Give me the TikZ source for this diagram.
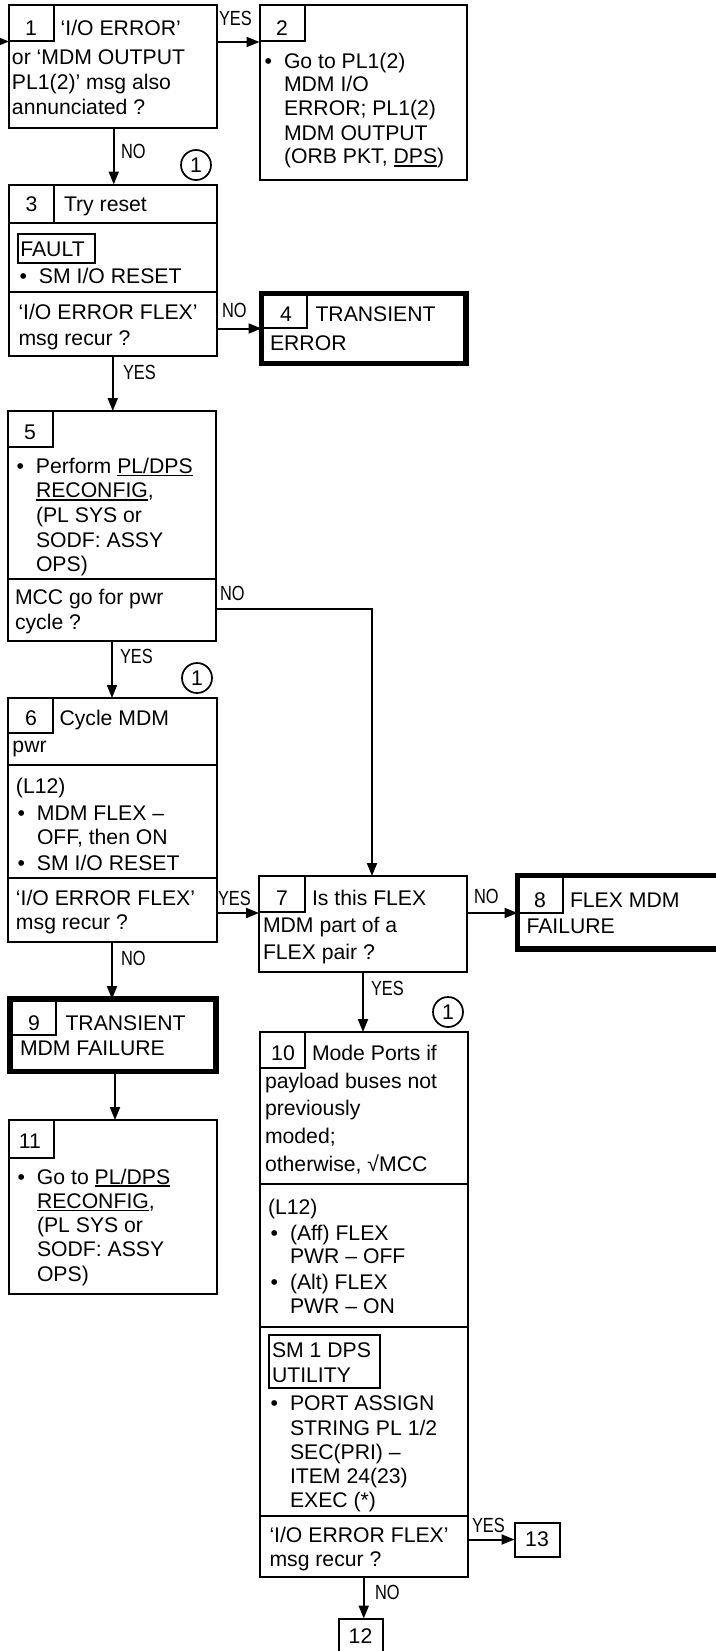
\documentclass[tikz,border=0pt]{standalone}
\usepackage{fontspec}
\setmainfont{Liberation Sans}
\newfontfamily\labfont[FakeStretch=0.8]{Liberation Sans}
\usetikzlibrary{arrows.meta}
\newcommand\fsk[1]{\fontsize{21.2pt}{#1pt}\selectfont}
\newcommand\bulx{\llap{\textbullet\hspace{12pt}}}
\newcommand\ulx[1]{\setbox0\hbox{#1}\rlap{\rule[-2.6pt]{\wd0}{1.4pt}}\box0}
\begin{document}
\begin{tikzpicture}[x=1pt,y=-1pt,
 box/.style={draw, line width=2pt, inner sep=0pt, outer sep=0pt, anchor=north west},
 tbox/.style={box, line width=5.5pt},
 txt/.style={inner sep=0pt, outer sep=0pt, anchor=base west, align=left, font=\fsk{24.5}},
 num/.style={inner sep=0pt, outer sep=0pt, anchor=base, font=\fsk{24.5}},
 lab/.style={inner sep=0pt, outer sep=0pt, anchor=base west, font=\labfont\fontsize{20.5pt}{22pt}\selectfont},
 arr/.style={line width=2pt, -{Triangle[length=13pt,width=10pt]}},
 circ/.style={circle, draw, line width=1.7pt, minimum size=30pt, inner sep=0pt, font=\fsk{24.5}},
 sepln/.style={line width=2pt},
 tabln/.style={line width=2pt},
 inbox/.style={draw, line width=1.7pt, inner sep=0pt, outer sep=0pt, anchor=north west}]
\useasboundingbox (0,0) rectangle (715,1651);

% ---------- boxes ----------
\node[box, minimum width=207.5pt, minimum height=123pt] (b1) at (9,5) {};
\node[box, minimum width=207.5pt, minimum height=175pt] (b2) at (259.5,5) {};
\node[box, minimum width=207.5pt, minimum height=171.5pt] (b3) at (9,184.5) {};
\node[tbox, minimum width=204.5pt, minimum height=70pt] (b4) at (261.5,293.5) {};
\node[box, minimum width=208pt, minimum height=230pt] (b5) at (8,411) {};
\node[box, minimum width=209pt, minimum height=244pt] (b6) at (7.5,698) {};
\node[box, minimum width=208pt, minimum height=96pt] (b7) at (259,876) {};
\node[tbox, minimum width=215pt, minimum height=73.5pt] (b8) at (517.5,875.5) {};
\node[tbox, minimum width=206pt, minimum height=72.5pt] (b9) at (10,999) {};
\node[box, minimum width=208.5pt, minimum height=545pt] (b10) at (259.5,1032) {};
\node[box, minimum width=208pt, minimum height=174pt] (b11) at (8.5,1120) {};
\node[inner sep=0pt, outer sep=0pt, anchor=north west, minimum width=44pt, minimum height=35pt, font=\fsk{24.5}] (b12) at (338.5,1618.5) {12};
\draw[line width=2pt] ([yshift=-30pt]b12.south west) |- (b12.north east) -- ([yshift=-30pt]b12.south east);
\node[box, minimum width=45pt, minimum height=34pt, font=\fsk{24.5}] (b13) at (514.5,1522.5) {13};

% ---------- tabs ----------
\draw[tabln] (53.5,5) |- (9,41.5);
\draw[tabln] (305,5) |- (259.5,41.5);
\draw[tabln] (54,184.5) -- (54,222.5);
\draw[tabln] (307,293.5) |- (261.5,328);
\draw[tabln] (53,411) |- (8,447);
\draw[tabln] (53,698) |- (7.5,733);
\draw[tabln] (305,876) |- (259,912);
\draw[tabln] (563,875.5) |- (517.5,913);
\draw[tabln] (56,999) |- (10,1035);
\draw[tabln] (305,1032) |- (259.5,1068);
\draw[tabln] (54,1120) |- (8.5,1158);

% ---------- separators ----------
\draw[sepln] (b3.west |- 0,222.5) -- (b3.east |- 0,222.5);
\draw[sepln] (b3.west |- 0,292) -- (b3.east |- 0,292);
\draw[sepln] (b5.west |- 0,579) -- (b5.east |- 0,579);
\draw[sepln] (b6.west |- 0,765) -- (b6.east |- 0,765);
\draw[sepln] (b6.west |- 0,878) -- (b6.east |- 0,878);
\draw[sepln] (b10.west |- 0,1184) -- (b10.east |- 0,1184);
\draw[sepln] (b10.west |- 0,1327) -- (b10.east |- 0,1327);
\draw[sepln] (b10.west |- 0,1516) -- (b10.east |- 0,1516);

% ---------- inner boxes ----------
\node[inbox, minimum width=77pt, minimum height=29pt] (fault) at (18,234) {};
\node[inbox, minimum width=111pt, minimum height=53pt] (smb) at (269,1335) {};

% ---------- circles ----------
\node[circ] (c1) at (196,165) {1};
\node[circ] (c2) at (197,678) {1};
\node[circ] (c3) at (448,1012) {1};

% ---------- texts (multi-line nodes anchored at their last baseline) ----------
% box 1
\node[num] (n1) at (31,36) {1};
\node[txt] (t1a) at (60.7,36) {‘I/O ERROR’};
\node[txt, font=\fsk{25}] (t1b) at (12,115) {or ‘MDM OUTPUT\\PL1(2)’ msg also\\annunciated ?};
% box 2
\node[num] (n2) at (282,36) {2};
\node[txt, font=\fsk{24}] (t2) at (284,164) {\bulx Go to PL1(2)\\MDM I/O\\ERROR; PL1(2)\\MDM OUTPUT\\(ORB PKT, \ulx{DPS})};
% box 3
\node[num] (n3) at (31.5,211.7) {3};
\node[txt] (t3a) at (64,211.7) {Try reset};
\node[txt] (tfault) at (20.3,256) {FAULT};
\node[txt] (t3b) at (39,283.3) {\bulx SM I/O RESET};
\node[txt, font=\fsk{26}] (t3c) at (18.5,345) {‘I/O ERROR FLEX’\\msg recur ?};
% box 4
\node[num] (n4) at (286,321.7) {4};
\node[txt] (t4a) at (315.5,321.7) {TRANSIENT};
\node[txt] (t4b) at (270,350) {ERROR};
% box 5
\node[num] (n5) at (30,439) {5};
\node[txt, font=\fsk{24.6}] (t5a) at (36,571.7) {\bulx Perform \ulx{PL/DPS}\\\ulx{RECONFIG},\\(PL SYS or\\SODF: ASSY\\OPS)};
\node[txt, font=\fsk{25}] (t5b) at (15,629) {MCC go for pwr\\cycle ?};
% box 6
\node[num] (n6) at (31,725) {6};
\node[txt] (t6a) at (59.5,725) {Cycle MDM};
\node[txt] (t6b) at (12.5,752) {pwr};
\node[txt] (t6c) at (16,793) {(L12)};
\node[txt, font=\fsk{23.5}] (t6d) at (37,870.9) {\bulx MDM FLEX –\\OFF, then ON\\[3.2pt]\bulx SM I/O RESET};
\node[txt, font=\fsk{24}] (t6e) at (16,929) {‘I/O ERROR FLEX’\\msg recur ?};
% box 7
\node[num] (n7) at (282,905) {7};
\node[txt] (t7a) at (312,905) {Is this FLEX};
\node[txt, font=\fsk{26.5}] (t7b) at (263,959.2) {MDM part of a\\FLEX pair ?};
% box 8
\node[num] (n8) at (540,907) {8};
\node[txt] (t8a) at (570,907) {FLEX MDM};
\node[txt] (t8b) at (526.5,933) {FAILURE};
% box 9
\node[num] (n9) at (34,1030) {9};
\node[txt] (t9a) at (65.5,1030) {TRANSIENT};
\node[txt] (t9b) at (20,1055) {MDM FAILURE};
% box 11
\node[num] (n11) at (30,1148) {11};
\node[txt, font=\fsk{24.3}] (t11) at (37,1281.2) {\bulx Go to \ulx{PL/DPS}\\\ulx{RECONFIG},\\(PL SYS or\\SODF: ASSY\\OPS)};
% box 10
\node[num] (n10) at (283,1060) {10};
\node[txt] (t10a) at (312,1060) {Mode Ports if};
\node[txt, font=\fsk{27.9}] (t10b) at (265,1171.7) {payload buses not\\previously\\moded;\\otherwise, √MCC};
\node[txt] (t10c) at (268,1214) {(L12)};
\node[txt, font=\fsk{23.5}] (t10d) at (290,1313.5) {\bulx (Aff) FLEX\\PWR – OFF\\[2.5pt]\bulx (Alt) FLEX\\[0.5pt]PWR – ON};
\node[txt, font=\fsk{25}] (t10e) at (272,1382) {SM 1 DPS\\UTILITY};
\node[txt, font=\fsk{24.3}] (t10f) at (290,1507.9) {\bulx PORT ASSIGN\\STRING PL 1/2\\SEC(PRI) –\\ITEM 24(23)\\EXEC (*)};
\node[txt, font=\fsk{24}] (t10g) at (269.5,1566.7) {‘I/O ERROR FLEX’\\msg recur ?};

% ---------- connectors ----------
\coordinate (in) at (-12,41.5);
\draw[arr] (in) -- (in -| b1.west);
\coordinate (y12) at ([yshift=-37pt]b1.north east);
\draw[arr] (y12) -- (y12 -| b2.west);
\coordinate (x13) at ([xshift=1pt]b1.south);
\draw[arr] (x13) -- (x13 |- b3.north);
\draw[arr] (b3.east |- b4.west) -- (b4.west);
\draw[arr] (b3.south) -- (b3.south |- b5.north);
\coordinate (y57) at ([yshift=-198pt]b5.north east);
\draw[arr] (y57) -| ([xshift=9pt]b7.north);
\draw[arr] (b5.south) -- (b5.south |- b6.north);
\coordinate (y67) at ([yshift=-215pt]b6.north east);
\draw[arr] (y67) -- (y67 -| b7.west);
\draw[arr] (b6.south) -- (b6.south |- b9.north);
\coordinate (y78) at ([yshift=-37pt]b7.north east);
\draw[arr] (y78) -- (y78 -| b8.west);
\draw[arr] (b7.south) -- (b7.south |- b10.north);
\coordinate (x911) at ([xshift=2pt]b9.south);
\draw[arr] (x911) -- (x911 |- b11.north);
\draw[arr] (b10.east |- b13.west) -- (b13.west);
\draw[arr] (b10.south) -- (b10.south |- b12.north);

% ---------- labels ----------
\node[lab] (l1) at (219,26) {YES};
\node[lab] (l2) at (121,158) {NO};
\node[lab] (l3) at (222,317) {NO};
\node[lab] (l4) at (123,379) {YES};
\node[lab] (l5) at (220,600) {NO};
\node[lab] (l6) at (120,663) {YES};
\node[lab] (l7) at (218,905) {YES};
\node[lab] (l8) at (474,903) {NO};
\node[lab] (l9) at (121,965) {NO};
\node[lab] (l10) at (371,995) {YES};
\node[lab] (l11) at (472,1532) {YES};
\node[lab] (l12) at (375,1599) {NO};
\end{tikzpicture}
\end{document}
